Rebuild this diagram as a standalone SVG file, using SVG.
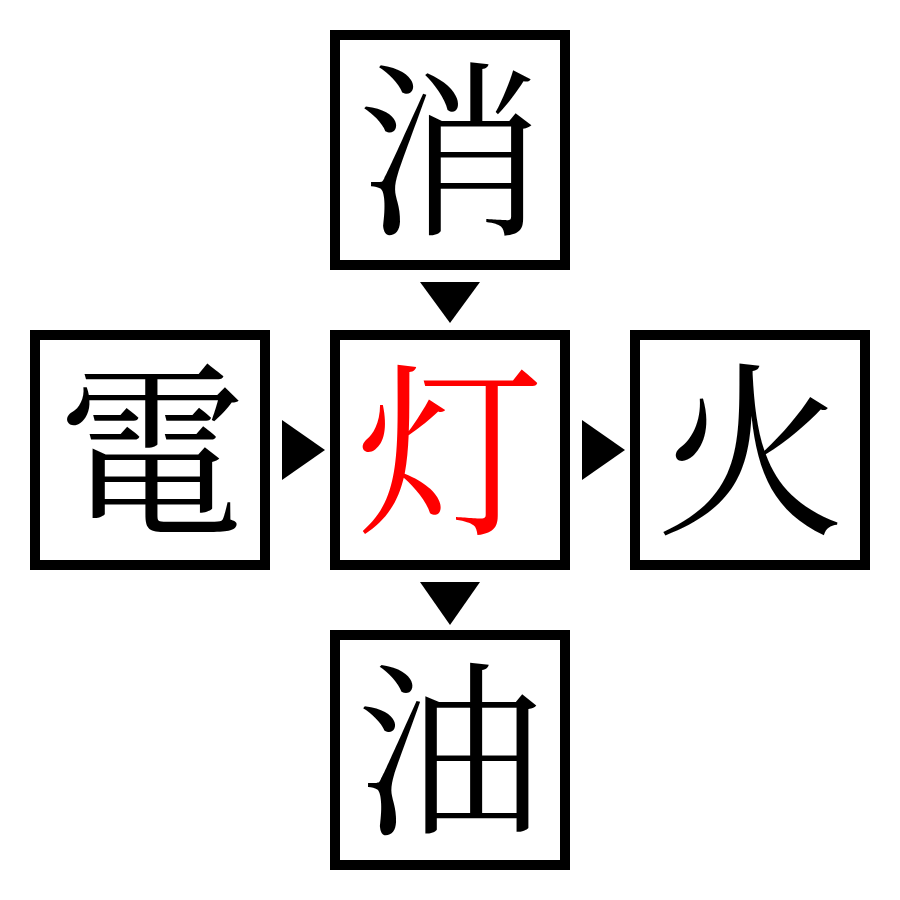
<svg xmlns="http://www.w3.org/2000/svg" width="900" height="900" viewBox="0 0 900 900">
<style>
.box{fill:#fff;stroke:#000;stroke-width:10}
.k{font-family:"Noto Serif CJK JP","Noto Sans CJK JP",serif;font-size:188px;text-anchor:middle;fill:#000}
.red{fill:#ff0000}
.arr{fill:#000}
</style>
<rect width="900" height="900" fill="#fff"/>
<g id="top"><rect class="box" x="335" y="35" width="230" height="230"/><text class="k" x="450" y="220">消</text></g>
<g id="left"><rect class="box" x="35" y="335" width="230" height="230"/><text class="k" x="152" y="520">電</text></g>
<g id="center"><rect class="box" x="335" y="335" width="230" height="230"/><text class="k red" x="450" y="520">灯</text></g>
<g id="right"><rect class="box" x="635" y="335" width="230" height="230"/><text class="k" x="750" y="520">火</text></g>
<g id="bottom"><rect class="box" x="335" y="635" width="230" height="230"/><text class="k" x="450" y="820">油</text></g>
<g id="connectors">
<polygon class="arr" points="420,282 480,282 450,323"/>
<polygon class="arr" points="282,420 282,480 325,450"/>
<polygon class="arr" points="582,420 582,480 625,450"/>
<polygon class="arr" points="420,582 480,582 450,625"/>
</g>
</svg>
